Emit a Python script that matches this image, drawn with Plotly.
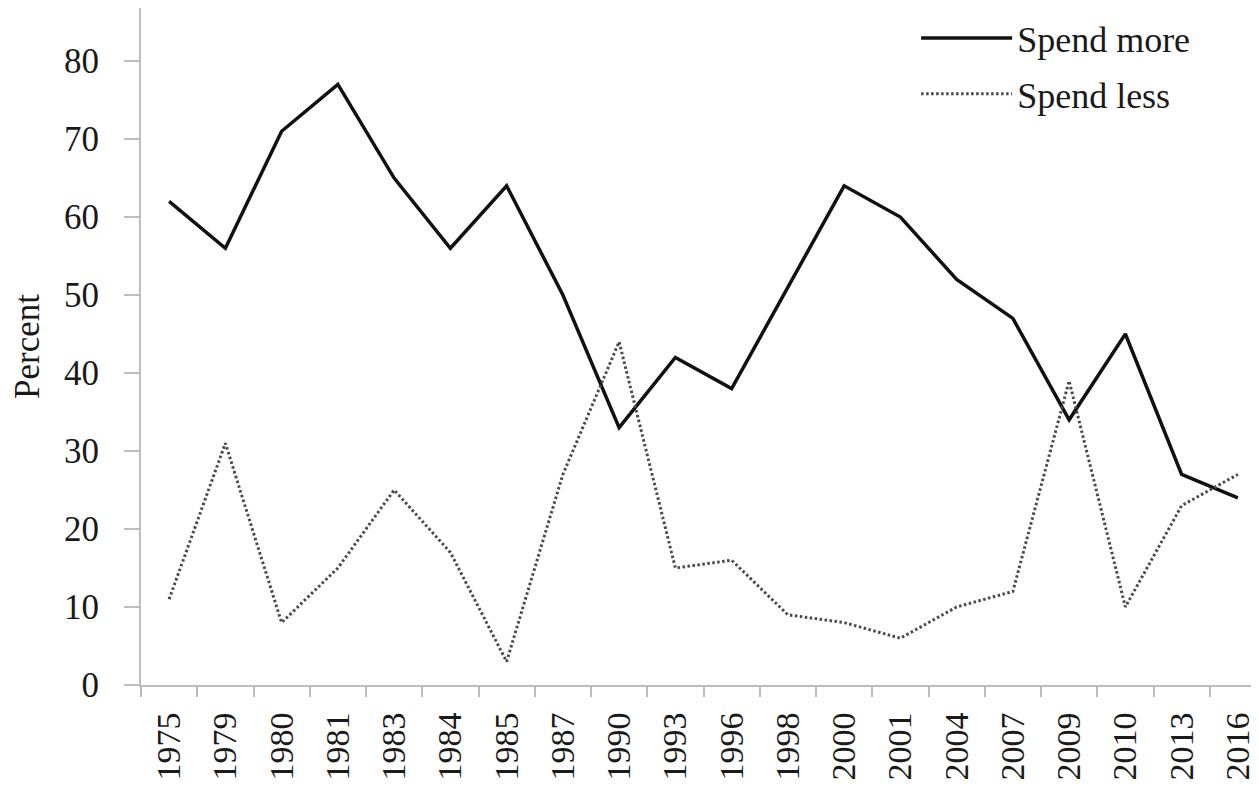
import plotly.graph_objects as go

years = ["1975", "1979", "1980", "1981", "1983", "1984", "1985", "1987", "1990", "1993",
         "1996", "1998", "2000", "2001", "2004", "2007", "2009", "2010", "2013", "2016"]
spend_more = [62, 56, 71, 77, 65, 56, 64, 50, 33, 42, 38, 51, 64, 60, 52, 47, 34, 45, 27, 24]
spend_less = [11, 31, 8, 15, 25, 17, 3, 27, 44, 15, 16, 9, 8, 6, 10, 12, 39, 10, 23, 27]

FONT = "Liberation Serif, Times New Roman, serif"

fig = go.Figure()
fig.add_trace(go.Scatter(x=years, y=spend_more, mode="lines", name="Spend more",
                         legendgroup="a",
                         line=dict(color="#111111", width=3.5)))
fig.add_trace(go.Scatter(x=years, y=spend_less, mode="lines", name="Spend less",
                         legendgroup="b",
                         line=dict(color="#4a4a4a", width=3, dash="2.5px,2.5px")))

fig.update_layout(
    width=1259, height=787,
    margin=dict(l=133, r=1, t=0, b=110),
    paper_bgcolor="white", plot_bgcolor="white",
    font=dict(family=FONT, size=35, color="#1a1a1a"),
    showlegend=True,
    legend=dict(x=0.689, y=1.0, xanchor="left", yanchor="top",
                bgcolor="rgba(0,0,0,0)", font=dict(size=36),
                itemwidth=91, tracegroupgap=6, traceorder="grouped"),
)
fig.update_xaxes(
    type="category", range=[-0.5, 19.5],
    showline=True, linecolor="#bdbdbd", linewidth=2,
    ticks="outside", tickson="boundaries", ticklen=10, tickcolor="#bdbdbd", tickwidth=2,
    tickangle=-90, tickfont=dict(size=34), showgrid=False, zeroline=False,
    ticklabelstandoff=12,
)
fig.update_yaxes(
    range=[0, 86.8], dtick=10, tick0=0,
    showline=True, linecolor="#bdbdbd", linewidth=2,
    ticks="outside", ticklen=15, tickcolor="#bdbdbd", tickwidth=2,
    tickfont=dict(size=35), showgrid=False, zeroline=False,
    ticklabelstandoff=18,
    title=dict(text="Percent", font=dict(size=35), standoff=18),
)

fig.write_html("out.html")
